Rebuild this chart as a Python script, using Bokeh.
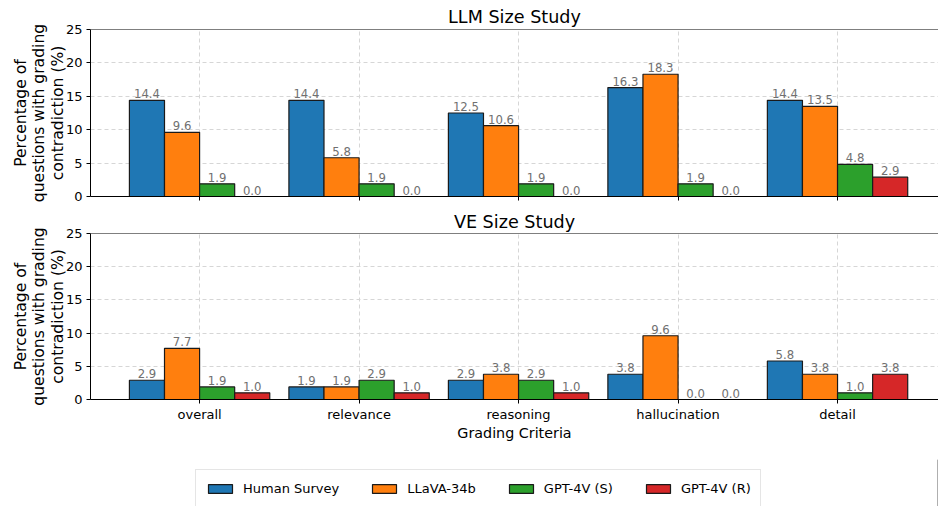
from bokeh.plotting import figure
from bokeh.models import ColumnDataSource, Range1d, FixedTicker, Span, Legend, LegendItem
from bokeh.layouts import column
from bokeh.embed import file_html
from bokeh.resources import INLINE
from bokeh.core.properties import value

categories = ["overall", "relevance", "reasoning", "hallucination", "detail"]
series_names = ["Human Survey", "LLaVA-34b", "GPT-4V (S)", "GPT-4V (R)"]
colors = ["#1f77b4", "#ff7f0e", "#2ca02c", "#d62728"]

llm_human = [14.4, 14.4, 12.5, 16.3, 14.4]
llm_llava = [9.6, 5.8, 10.6, 18.3, 13.5]
llm_gpt4v_s = [1.9, 1.9, 1.9, 1.9, 4.8]
llm_gpt4v_r = [0.0, 0.0, 0.0, 0.0, 2.9]

ve_human = [2.9, 1.9, 2.9, 3.8, 5.8]
ve_llava = [7.7, 1.9, 3.8, 9.6, 3.8]
ve_gpt4v_s = [1.9, 2.9, 2.9, 0.0, 1.0]
ve_gpt4v_r = [1.0, 1.0, 1.0, 0.0, 3.8]

y_ticks = [0, 5, 10, 15, 20, 25]

FONT = "DejaVu Sans"
BAR_W = 0.22
GRID_COLOR = "#d6d6d6"
W = 938


def make_panel(title, series, height, top_border, bottom_border, show_xlabels, title_standoff):
    p = figure(width=W, height=height, output_backend="svg", toolbar_location=None,
               x_range=Range1d(-0.684, 4.633), y_range=Range1d(0, 25),
               min_border_left=90, min_border_right=0,
               min_border_top=top_border, min_border_bottom=bottom_border,
               title=title)
    p.title.text_font = FONT
    p.title.text_font_size = "17.6px"
    p.title.text_font_style = "normal"
    p.title.text_color = "black"
    p.title.align = "center"
    p.title.standoff = title_standoff
    p.title.offset = 5
    p.outline_line_color = None
    p.background_fill_color = "white"
    p.border_fill_color = "white"

    idx = list(range(len(categories)))
    for i, (vals, col) in enumerate(zip(series, colors)):
        xs = [k + (i - 1.5) * BAR_W for k in idx]
        src = ColumnDataSource(dict(x=xs, top=vals, label=[f"{v:.1f}" for v in vals]))
        p.vbar(x="x", top="top", width=BAR_W, bottom=0, source=src,
               fill_color=col, line_color="#1a1a1a", line_width=1.2)
        p.text(x="x", y="top", text="label", source=src, text_align="center",
               text_baseline="bottom", y_offset=-2, text_color="#707070",
               text_font=value(FONT), text_font_size="11.7px")

    p.xaxis.ticker = FixedTicker(ticks=idx)
    p.yaxis.ticker = FixedTicker(ticks=y_ticks)
    p.xgrid.ticker = FixedTicker(ticks=idx)
    p.ygrid.ticker = FixedTicker(ticks=y_ticks)
    for g in (p.xgrid, p.ygrid):
        g.grid_line_color = GRID_COLOR
        g.grid_line_dash = "4 3"
        g.grid_line_width = 1

    for ax in (p.xaxis, p.yaxis):
        ax.axis_line_color = "black"
        ax.major_tick_line_color = "black"
        ax.major_tick_out = 4
        ax.major_tick_in = 0
        ax.minor_tick_line_color = None
        ax.major_label_text_font = FONT
        ax.major_label_text_font_size = "13px"
        ax.major_label_text_color = "black"
        ax.major_label_standoff = 4
        ax.axis_label_text_font = FONT
        ax.axis_label_text_font_style = "normal"
        ax.axis_label_text_color = "black"

    p.yaxis.axis_label = "Percentage of\nquestions with grading\ncontradiction (%)"
    p.yaxis.axis_label_text_font_size = "15.6px"
    p.yaxis.axis_label_text_line_height = 1.04
    p.yaxis.axis_label_standoff = -4

    if show_xlabels:
        p.xaxis.major_label_overrides = {k: c for k, c in zip(idx, categories)}
        p.xaxis.major_label_standoff = 3
        p.xaxis.axis_label = "Grading Criteria"
        p.xaxis.axis_label_text_font_size = "14.3px"
        p.xaxis.axis_label_standoff = 0
    else:
        p.xaxis.major_label_overrides = {k: "" for k in idx}
        p.xaxis.major_label_standoff = 0

    p.add_layout(Span(location=25, dimension="width", line_color="black", line_width=1))
    return p


p1 = make_panel("LLM Size Study", [llm_human, llm_llava, llm_gpt4v_s, llm_gpt4v_r],
                208, 29, 12, False, 5)
p2 = make_panel("VE Size Study", [ve_human, ve_llava, ve_gpt4v_s, ve_gpt4v_r],
                251, 25, 60, True, 3)

# Legend strip
LEG_H = 47
pl = figure(width=W, height=LEG_H, output_backend="svg", toolbar_location=None,
            x_range=Range1d(0, 1), y_range=Range1d(0, 1),
            min_border_left=0, min_border_right=0, min_border_top=0, min_border_bottom=0)
pl.axis.visible = False
pl.grid.visible = False
pl.outline_line_color = None
items = []
for name, col in zip(series_names, colors):
    r = pl.vbar(x=[5], top=[1], width=0.1, fill_color=col, line_color="#1a1a1a", line_width=1.2)
    items.append(LegendItem(label=name, renderers=[r]))
leg = Legend(items=items, orientation="horizontal", location=(105, -1),
             glyph_width=30, glyph_height=11, label_standoff=8, spacing=30,
             label_height=18, padding=9, margin=0,
             label_text_font=FONT, label_text_font_size="13px", label_text_color="black",
             border_line_color="#cccccc", border_line_width=1,
             background_fill_color="white", background_fill_alpha=1.0)
pl.add_layout(leg, "center")

layout = column(p1, p2, pl, spacing=0)

with open("out.html", "w") as f:
    f.write(file_html(layout, INLINE))
